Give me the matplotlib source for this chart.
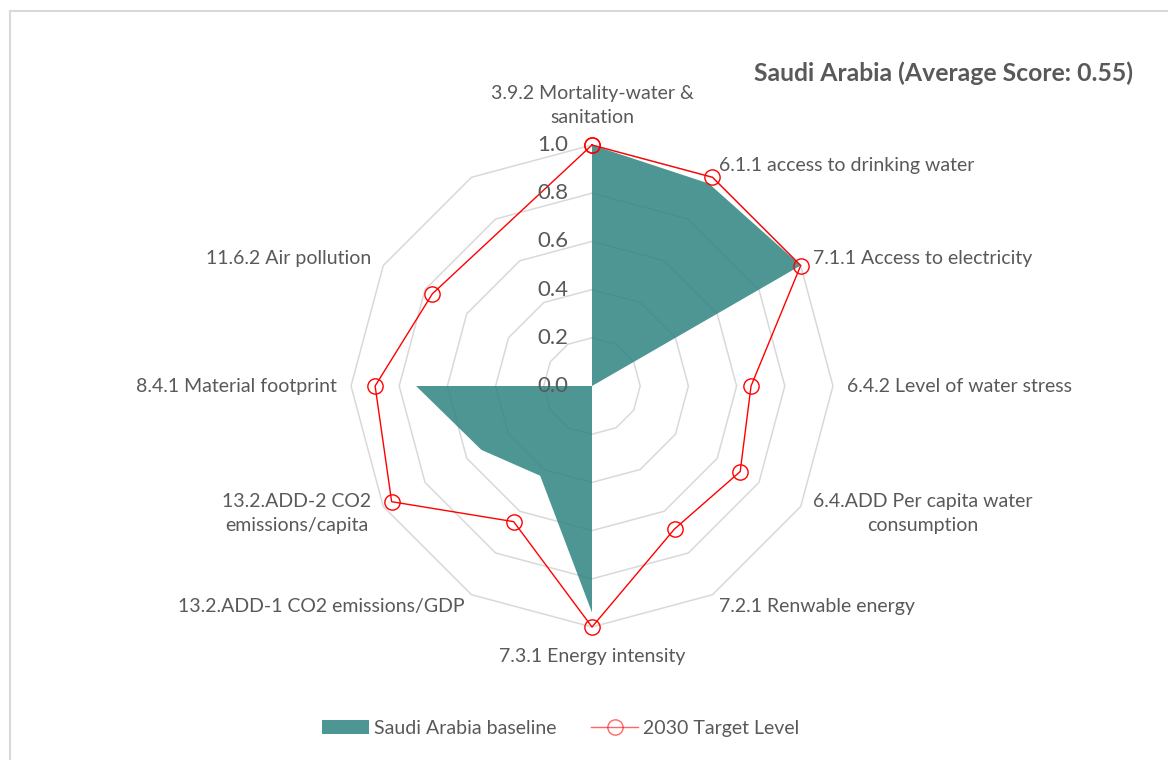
import numpy as np
import matplotlib
matplotlib.use("Agg")
import matplotlib.pyplot as plt
from matplotlib.lines import Line2D
from matplotlib.patches import Patch

# -----------------------------
# DATA
# -----------------------------
indicators = [
    "3.9.2 Mortality-water &\nsanitation",
    "6.1.1 access to drinking water",
    "7.1.1 Access to electricity",
    "6.4.2 Level of water stress",
    "6.4.ADD Per capita water\nconsumption",
    "7.2.1 Renwable energy",
    "7.3.1 Energy intensity",
    "13.2.ADD-1 CO2 emissions/GDP",
    "13.2.ADD-2 CO2\nemissions/capita",
    "8.4.1 Material footprint",
    "11.6.2 Air pollution",
    "",
]
baseline = [1.0, 0.97, 1.0, 0.0, 0.0, 0.0, 0.94, 0.43, 0.53, 0.73, 0.0, 0.0]
target_2030 = [1.0, 1.0, 1.0, 0.66, 0.71, 0.685, 1.0, 0.65, 0.96, 0.90, 0.765, None]
rings = [0.0, 0.2, 0.4, 0.6, 0.8, 1.0]

title = "Saudi Arabia (Average Score: 0.55)"
TEXT = "#595959"
TEAL = "#4d9693"
RED = "#ff0000"
GRID = "#d9d9d9"

plt.rcParams["font.family"] = ["Lato", "DejaVu Sans"]

n = len(indicators)
theta = np.linspace(0, 2 * np.pi, n, endpoint=False)
theta_closed = np.append(theta, theta[0])

fig = plt.figure(figsize=(11.68, 7.6), dpi=100)
ax = fig.add_axes([0.3005, 0.175, 0.4127, 0.6342], projection="polar")
ax.set_theta_offset(np.pi / 2)
ax.set_theta_direction(-1)
ax.set_ylim(0, 1.0)
ax.set_axis_off()

# polygon gridlines
for r in rings[1:]:
    ax.plot(theta_closed, [r] * (n + 1), color=GRID, lw=1.1, zorder=1,
            solid_joinstyle="miter", clip_on=False)

# baseline area
base_closed = baseline + baseline[:1]
ax.fill(theta_closed, base_closed, color="#2e8481", alpha=0.85, lw=0, zorder=2,
        clip_on=False)

# target line, skipping blank entries
t_th = [t for t, v in zip(theta, target_2030) if v is not None]
t_v = [v for v in target_2030 if v is not None]
ax.plot(t_th + t_th[:1], t_v + t_v[:1], color=RED, lw=1.0, marker="o",
        markersize=11, markerfacecolor="none", markeredgecolor=RED,
        markeredgewidth=1.0, zorder=3, clip_on=False)

# radial tick labels
for r in rings:
    ax.annotate(f"{r:.1f}", xy=(0, r), xytext=(-17, 0), textcoords="offset points",
                ha="right", va="center", fontsize=16, color=TEXT, zorder=4)

# category labels
pad = 10
for t, lab in zip(theta, indicators):
    ang = np.pi / 2 - t
    dx, dy = np.cos(ang), np.sin(ang)
    if dx > 0.01:
        ha = "left"
    elif dx < -0.01:
        ha = "right"
    else:
        ha = "center"
    if dy > 0.99:
        va, off = "bottom", (0, 14)
    elif dy < -0.99:
        va, off = "top", (0, -15)
    else:
        va, off = "center", (pad * dx, pad * dy)
    ax.annotate(lab, xy=(t, 1.0), xytext=off, textcoords="offset points",
                ha=ha, va=va, fontsize=14, color=TEXT, multialignment="center",
                linespacing=1.45, annotation_clip=False)

fig.text(0.970, 0.904, title, ha="right", va="center", fontsize=17.8,
         fontweight="bold", color=TEXT)

handles = [
    Patch(facecolor=TEAL, edgecolor="none", label="Saudi Arabia baseline"),
    Line2D([], [], color=RED, lw=1.0, marker="o", markersize=11,
           markerfacecolor="none", markeredgecolor=RED, alpha=0.6,
           label="2030 Target Level"),
]
fig.legend(handles=handles, loc="center", bbox_to_anchor=(0.48, 0.042), ncol=2,
           frameon=False, fontsize=14, labelcolor=TEXT, handlelength=2.4,
           handleheight=0.7, columnspacing=1.8, handletextpad=0.25)

# chart area border (left and top edges)
fig.add_artist(Line2D([0.0086, 0.0086], [0.0, 0.9855], color="#d9d9d9", lw=1.5,
                      transform=fig.transFigure))
fig.add_artist(Line2D([0.0086, 1.0], [0.9855, 0.9855], color="#d9d9d9", lw=1.5,
                      transform=fig.transFigure))

plt.savefig("out.png", dpi=100)
plt.close()
